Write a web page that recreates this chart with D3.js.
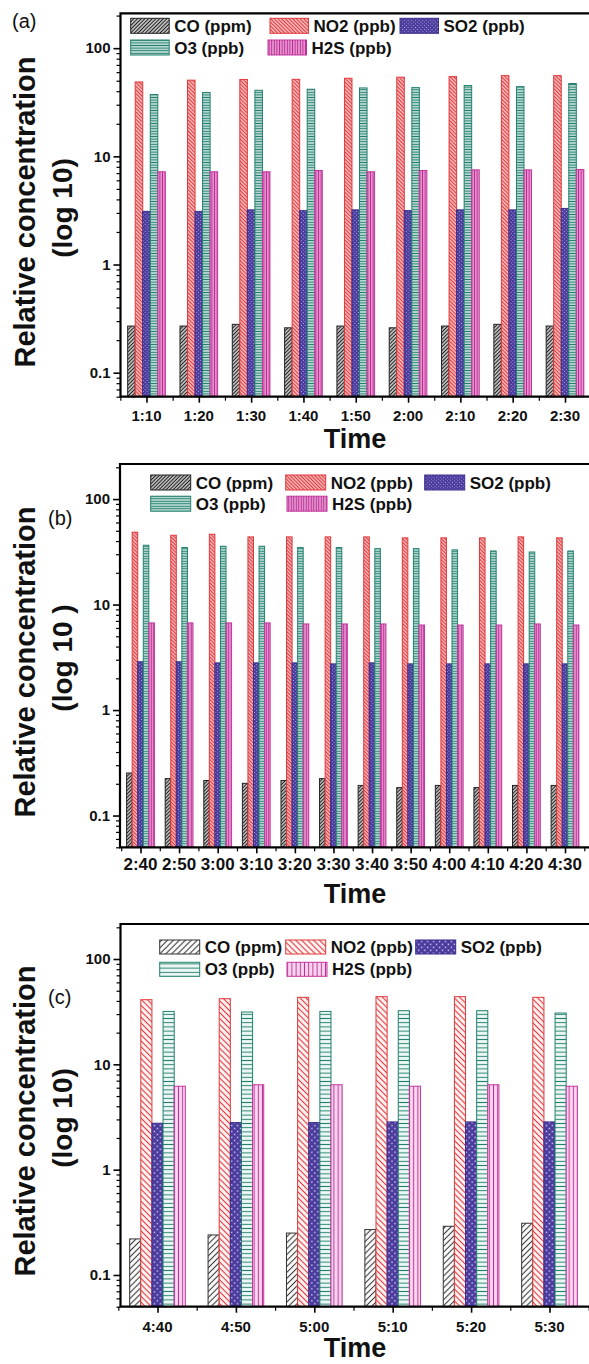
<!DOCTYPE html>
<html><head><meta charset="utf-8">
<script src="https://cdn.jsdelivr.net/npm/d3@7"></script>
<style>
body{margin:0;background:#fff}
svg{display:block}
text{font-family:"Liberation Sans",Arial,Helvetica,sans-serif}
</style>
</head><body>
<svg id="chart" width="589" height="1364"></svg>
<script>
// ---------------- DATA ----------------
const seriesNames = ["CO (ppm)", "NO2 (ppb)", "SO2 (ppb)", "O3 (ppb)", "H2S (ppb)"];
const yTickValues = [0.1, 1, 10, 100];
const yTickLabels = ["0.1", "1", "10", "100"];

const timesA = ["1:10","1:20","1:30","1:40","1:50","2:00","2:10","2:20","2:30"];
const coA  = [0.27, 0.27, 0.28, 0.26, 0.27, 0.26, 0.27, 0.28, 0.27];
const no2A = [48.7, 50.6, 51.4, 51.5, 52.7, 53.9, 54.6, 55.7, 55.7];
const so2A = [3.1, 3.1, 3.2, 3.15, 3.2, 3.15, 3.2, 3.2, 3.3];
const o3A  = [37.3, 38.9, 40.8, 41.7, 42.9, 43.2, 45.1, 44.1, 47.1];
const h2sA = [7.2, 7.2, 7.2, 7.4, 7.2, 7.4, 7.5, 7.5, 7.55];

const timesB = ["2:40","2:50","3:00","3:10","3:20","3:30","3:40","3:50","4:00","4:10","4:20","4:30"];
const coB  = [0.253, 0.224, 0.215, 0.202, 0.215, 0.224, 0.193, 0.184, 0.193, 0.184, 0.193, 0.193];
const no2B = [48.5, 45.4, 46.4, 43.8, 43.8, 43.8, 43.8, 42.9, 42.9, 42.9, 43.8, 42.9];
const so2B = [2.87, 2.87, 2.8, 2.8, 2.8, 2.74, 2.8, 2.74, 2.74, 2.74, 2.74, 2.74];
const o3B  = [36.5, 34.7, 35.7, 35.7, 34.7, 34.7, 33.9, 33.9, 33.0, 32.2, 31.5, 32.2];
const h2sB = [6.7, 6.7, 6.7, 6.7, 6.55, 6.55, 6.55, 6.4, 6.4, 6.4, 6.55, 6.4];

const timesC = ["4:40","4:50","5:00","5:10","5:20","5:30"];
const coC  = [0.22, 0.24, 0.25, 0.27, 0.29, 0.31];
const no2C = [41.1, 42.0, 43.3, 43.9, 43.9, 43.3];
const so2C = [2.76, 2.8, 2.8, 2.84, 2.84, 2.84];
const o3C  = [31.8, 31.4, 31.8, 32.3, 32.3, 30.7];
const h2sC = [6.2, 6.4, 6.4, 6.2, 6.4, 6.2];

// ---------------- STYLE / LAYOUT ----------------
const colorsDense = {
  stroke: ["#222222", "#e0393b", "#3b2d8c", "#23806f", "#c2369c"],
  line:   ["#1e1e1e", "#e0363a", "#cfc8f2", "#23806f", "#bd2a96"],
  bg:     ["#ffffff", "#ffe6e6", "#4a3b9d", "#dff1ec", "#eeb0dc"]
};
const colorsSparse = {
  stroke: ["#333333", "#e0393b", "#3b2d8c", "#23806f", "#c2369c"],
  line:   ["#3a3a3a", "#e0363a", "#cfc8f2", "#23806f", "#c0309a"],
  bg:     ["#ffffff", "#fff4f4", "#4a3b9d", "#eef8f5", "#fbd6ef"]
};

const panels = [
  { key:"a", times:timesA, series:[coA,no2A,so2A,o3A,h2sA],
    top:13.3, bottom:396.7, left:120.5, right:600, yDomain:[0.06,210],
    x0:146.5, x1:565, groupFrac:0.72, tickFont:15, tickBase:421,
    label:"(a)", labelX:12, labelY:28, ylab1CY:212, ylab2:"(log 10)", ylab2CY:208, timeBase:448,
    legRows:[25.8,47.5], legCols:[130.7,270,400,130.7,268], legRow:[0,0,0,1,1], box:[38.5,15],
    pat:2.6, lw:1.4, colors:colorsDense },
  { key:"b", times:timesB, series:[coB,no2B,so2B,o3B,h2sB],
    top:464, bottom:847.3, left:120, right:600, yDomain:[0.05,215],
    x0:140.5, x1:565, groupFrac:0.72, tickFont:17, tickBase:870,
    label:"(b)", labelX:48, labelY:525, ylab1CY:662, ylab2:"(log 10 )", ylab2CY:658, timeBase:903,
    legRows:[482.5,503.7], legCols:[150.7,285.7,424.7,150.7,287], legRow:[0,0,0,1,1], box:[40,15],
    pat:2.5, lw:1.4, colors:colorsDense },
  { key:"c", times:timesC, series:[coC,no2C,so2C,o3C,h2sC],
    top:924, bottom:1306.7, left:120.5, right:600, yDomain:[0.05,215],
    x0:157.5, x1:549.5, groupFrac:0.71, tickFont:15, tickBase:1331.5,
    label:"(c)", labelX:48, labelY:1004, ylab1CY:1121, ylab2:"(log 10)", ylab2CY:1118, timeBase:1357,
    legRows:[947,969.3], legCols:[159.7,285.7,415.7,159.7,287], legRow:[0,0,0,1,1], box:[40,14],
    pat:4.2, lw:1.1, colors:colorsSparse }
];

const svg = d3.select("#chart");
const defs = svg.append("defs");

function makePatterns(key, s, lw, C) {
  const mk = (i, rot) => {
    const p = defs.append("pattern").attr("id", `p${key}${i}`)
      .attr("patternUnits","userSpaceOnUse").attr("width", s).attr("height", s);
    if (rot !== null) p.attr("patternTransform", `rotate(${rot})`);
    p.append("rect").attr("width", s).attr("height", s).attr("fill", C.bg[i]);
    return p;
  };
  let p = mk(0, 45);   // CO: "/" hatch
  p.append("line").attr("x1", s/2).attr("y1", 0).attr("x2", s/2).attr("y2", s)
    .attr("stroke", C.line[0]).attr("stroke-width", lw);
  p = mk(1, -45);      // NO2: "\" hatch
  p.append("line").attr("x1", s/2).attr("y1", 0).attr("x2", s/2).attr("y2", s)
    .attr("stroke", C.line[1]).attr("stroke-width", lw);
  p = mk(2, 45);       // SO2: dots
  p.append("circle").attr("cx", s/2).attr("cy", s/2).attr("r", s*0.2)
    .attr("fill", C.line[2]);
  p = mk(3, null);     // O3: horizontal lines
  p.append("line").attr("x1", 0).attr("y1", s/2).attr("x2", s).attr("y2", s/2)
    .attr("stroke", C.line[3]).attr("stroke-width", lw * 0.9);
  p = mk(4, null);     // H2S: vertical lines
  p.append("line").attr("x1", s/2).attr("y1", 0).attr("x2", s/2).attr("y2", s)
    .attr("stroke", C.line[4]).attr("stroke-width", lw * 0.9);
  return d3.range(5).map(i => `url(#p${key}${i})`);
}

panels.forEach(P => {
  const C = P.colors;
  const fills = makePatterns(P.key, P.pat, P.lw, C);
  const g = svg.append("g");
  const n = P.times.length;

  const y = d3.scaleLog().domain(P.yDomain).range([P.bottom, P.top]);
  const xLin = d3.scaleLinear().domain([0, n - 1]).range([P.x0, P.x1]);
  const xPt = d3.scalePoint().domain(P.times).range([P.x0, P.x1]);
  const step = (P.x1 - P.x0) / (n - 1);
  const bw = step * P.groupFrac / 5;

  // bars
  P.series.forEach((vals, k) => {
    g.append("g").selectAll("rect").data(vals).join("rect")
      .attr("x", (d, i) => xPt(P.times[i]) + (k - 2.5) * bw)
      .attr("y", d => y(d))
      .attr("width", bw)
      .attr("height", d => P.bottom - y(d))
      .attr("fill", fills[k])
      .attr("stroke", C.stroke[k])
      .attr("stroke-width", 1);
  });

  // y axis ticks
  const ya = g.append("g").attr("transform", `translate(${P.left},0)`)
    .call(d3.axisLeft(y).tickValues(yTickValues)
      .tickFormat((d, i) => yTickLabels[i]).tickSize(7).tickPadding(3));
  ya.select(".domain").remove();
  ya.selectAll("line").attr("stroke", "#000").attr("stroke-width", 1.6);
  ya.selectAll("text").attr("font-size", 15).attr("font-weight", "bold")
    .attr("fill", "#111").attr("font-family", '"Liberation Sans",Arial,sans-serif');

  const minorVals = [];
  for (let e = -2; e <= 2; e++) for (let m = 2; m <= 9; m++) {
    const v = m * Math.pow(10, e);
    if (v >= P.yDomain[0] && v <= P.yDomain[1]) minorVals.push(v);
  }
  const ym = g.append("g").attr("transform", `translate(${P.left},0)`)
    .call(d3.axisLeft(y).tickValues(minorVals).tickFormat("").tickSize(4));
  ym.select(".domain").remove();
  ym.selectAll("line").attr("stroke", "#000").attr("stroke-width", 1.2);

  // x axis ticks
  const xa = g.append("g").attr("transform", `translate(0,${P.bottom})`)
    .call(d3.axisBottom(xPt).tickSize(6).tickFormat(""));
  xa.select(".domain").remove();
  xa.selectAll("line").attr("stroke", "#000").attr("stroke-width", 1.6);
  g.append("g").selectAll("text").data(P.times).join("text")
    .attr("x", d => xPt(d)).attr("y", P.tickBase)
    .attr("text-anchor", "middle").attr("font-size", P.tickFont)
    .attr("font-weight", "bold").attr("fill", "#111").text(d => d);

  const minorX = d3.range(-1, n).map(i => i + 0.5);
  const xm = g.append("g").attr("transform", `translate(0,${P.bottom})`)
    .call(d3.axisBottom(xLin).tickValues(minorX).tickFormat("").tickSize(4));
  xm.select(".domain").remove();
  xm.selectAll("line").attr("stroke", "#000").attr("stroke-width", 1.2);

  // frame (right side lies outside the picture, as in the reference)
  g.append("path")
    .attr("d", `M${P.right},${P.top}H${P.left}V${P.bottom}H${P.right}`)
    .attr("fill", "none").attr("stroke", "#000").attr("stroke-width", 2.2);

  // legend
  seriesNames.forEach((name, k) => {
    const bx = P.legCols[k], cy = P.legRows[P.legRow[k]];
    g.append("rect").attr("x", bx).attr("y", cy - P.box[1] / 2)
      .attr("width", P.box[0]).attr("height", P.box[1])
      .attr("fill", fills[k]).attr("stroke", C.stroke[k]).attr("stroke-width", 1);
    g.append("text").attr("x", bx + P.box[0] + 5).attr("y", cy + 6)
      .attr("font-size", 17).attr("font-weight", "bold").attr("fill", "#111").text(name);
  });

  // axis titles
  g.append("text").attr("transform", `translate(35,${P.ylab1CY}) rotate(-90)`)
    .attr("text-anchor", "middle").attr("font-size", 29).attr("font-weight", "bold")
    .attr("fill", "#111").text("Relative concentration");
  g.append("text").attr("transform", `translate(72,${P.ylab2CY}) rotate(-90)`)
    .attr("text-anchor", "middle").attr("font-size", 28).attr("font-weight", "bold")
    .attr("fill", "#111").text(P.ylab2);
  g.append("text").attr("x", 355).attr("y", P.timeBase)
    .attr("text-anchor", "middle").attr("font-size", 27).attr("font-weight", "bold")
    .attr("fill", "#111").text("Time");

  g.append("text").attr("x", P.labelX).attr("y", P.labelY)
    .attr("font-size", 20).attr("fill", "#111").text(P.label);
});
</script>
</body></html>
